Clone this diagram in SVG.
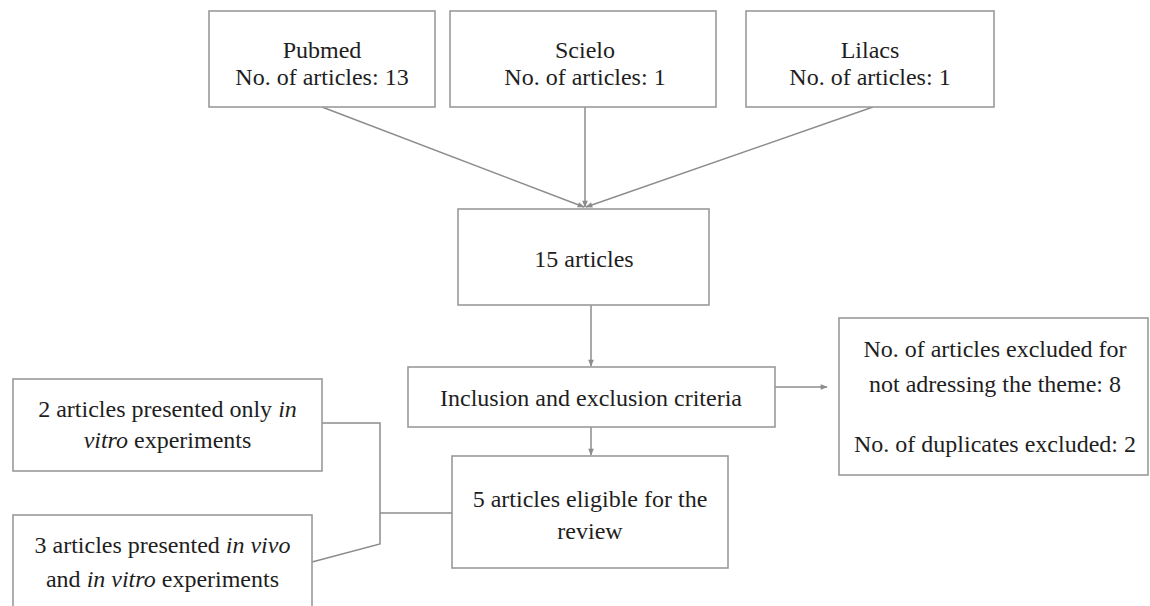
<svg xmlns="http://www.w3.org/2000/svg" width="1150" height="606" viewBox="0 0 1150 606">
<style>
.box{fill:#fff;stroke:#9a9a9a;stroke-width:1.6}
.t{font-family:'Liberation Serif','Times New Roman','DejaVu Serif',serif;font-size:24px;fill:#1e1e1e;text-anchor:middle}
.c{fill:none;stroke:#8c8c8c;stroke-width:1.5}
</style>
<defs>
<marker id="ah" viewBox="0 0 10 10" refX="9" refY="5" markerWidth="8" markerHeight="7" markerUnits="userSpaceOnUse" orient="auto">
<path d="M0,1 L10,5 L0,9 Z" fill="#8c8c8c"/>
</marker>
</defs>
<rect width="1150" height="606" fill="#fff"/>
<g id="connectors">
<line class="c" x1="322" y1="107" x2="584" y2="207" marker-end="url(#ah)"/>
<line class="c" x1="585" y1="107" x2="585" y2="207" marker-end="url(#ah)"/>
<line class="c" x1="873" y1="107" x2="586" y2="207" marker-end="url(#ah)"/>
<line class="c" x1="591" y1="305" x2="591" y2="366" marker-end="url(#ah)"/>
<line class="c" x1="775" y1="387" x2="827" y2="387" marker-end="url(#ah)"/>
<line class="c" x1="591" y1="427" x2="591" y2="455" marker-end="url(#ah)"/>
<polyline class="c" points="322,423 380,423 380,544 312,562"/>
<line class="c" x1="380" y1="513" x2="452" y2="513"/>
</g>
<g id="pubmed">
<rect class="box" x="209" y="11" width="226" height="96"/>
<text class="t" x="322" y="58">Pubmed</text>
<text class="t" x="322" y="85">No. of articles: 13</text>
</g>
<g id="scielo">
<rect class="box" x="450" y="11" width="266" height="96"/>
<text class="t" x="585" y="58">Scielo</text>
<text class="t" x="585" y="85">No. of articles: 1</text>
</g>
<g id="lilacs">
<rect class="box" x="746" y="11" width="248" height="96"/>
<text class="t" x="870" y="58">Lilacs</text>
<text class="t" x="870" y="85">No. of articles: 1</text>
</g>
<g id="total">
<rect class="box" x="458" y="209" width="251" height="96"/>
<text class="t" x="584" y="267">15 articles</text>
</g>
<g id="criteria">
<rect class="box" x="408" y="367" width="367" height="60"/>
<text class="t" x="591" y="406">Inclusion and exclusion criteria</text>
</g>
<g id="excluded">
<rect class="box" x="839" y="318" width="309" height="157"/>
<text class="t" x="995" y="357">No. of articles excluded for</text>
<text class="t" x="995" y="392">not adressing the theme: 8</text>
<text class="t" x="995" y="452">No. of duplicates excluded: 2</text>
</g>
<g id="eligible">
<rect class="box" x="452" y="456" width="276" height="112"/>
<text class="t" x="590" y="507">5 articles eligible for the</text>
<text class="t" x="590" y="539">review</text>
</g>
<g id="invitro">
<rect class="box" x="13" y="379" width="309" height="92"/>
<text class="t" x="167.5" y="417">2 articles presented only <tspan font-style="italic">in</tspan></text>
<text class="t" x="167.5" y="448"><tspan font-style="italic">vitro</tspan> experiments</text>
</g>
<g id="invivo">
<rect class="box" x="13" y="515" width="299" height="100"/>
<text class="t" x="162.5" y="553">3 articles presented <tspan font-style="italic">in vivo</tspan></text>
<text class="t" x="162.5" y="587">and <tspan font-style="italic">in vitro</tspan> experiments</text>
</g>
</svg>
